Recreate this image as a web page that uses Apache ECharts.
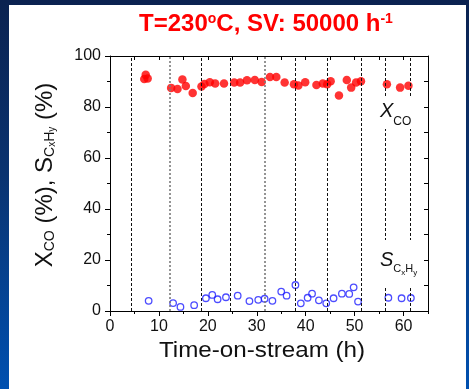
<!DOCTYPE html>
<html>
<head>
<meta charset="utf-8">
<script src="https://cdn.jsdelivr.net/npm/echarts@6/dist/echarts.min.js"></script>
<style>
  html, body { margin: 0; padding: 0; width: 469px; height: 389px; overflow: hidden; }
  body { background: linear-gradient(to bottom, #0b2250 0%, #0a3370 45%, #0050b0 100%); position: relative; }
  #panel { position: absolute; left: 9px; top: 5px; width: 457px; height: 384px; background: #ffffff; }
  #chart { position: absolute; left: 0; top: 0; width: 469px; height: 389px; }
</style>
</head>
<body>
<div id="panel"></div>
<div id="chart"></div>
<script>
// CO conversion (filled red) vs time on stream
const convTime = [7.3, 7.0, 7.7, 12.5, 13.8, 14.8, 15.5, 16.9, 18.7, 19.3, 20.4, 21.5, 23.3, 25.4, 26.6, 28.0, 29.6, 31.0, 32.7, 34.0, 35.7, 37.6, 38.5, 39.9, 42.2, 43.5, 44.4, 45.1, 46.8, 48.4, 49.3, 50.3, 51.3, 56.6, 59.3, 61.0];
const convValues = [92.6, 91.0, 91.2, 87.5, 87.1, 90.8, 88.2, 85.5, 88.0, 89.0, 89.7, 89.2, 89.2, 89.6, 89.6, 90.5, 90.6, 89.8, 91.8, 91.8, 89.6, 88.9, 88.4, 89.7, 88.6, 89.2, 88.9, 90.1, 84.5, 90.6, 87.6, 89.6, 90.1, 88.9, 87.6, 88.3];

// Hydrocarbon selectivity (open blue) vs time on stream
const selTime = [7.9, 12.9, 14.4, 17.2, 19.6, 20.9, 22.0, 23.7, 26.1, 28.5, 30.3, 31.6, 33.2, 35.0, 36.1, 37.9, 39.0, 40.4, 41.3, 42.7, 44.2, 45.7, 47.4, 48.9, 49.8, 50.7, 56.9, 59.6, 61.5];
const selValues = [4.0, 3.1, 1.6, 2.3, 5.0, 6.3, 4.6, 5.4, 6.0, 3.9, 4.4, 4.8, 4.0, 7.6, 6.0, 10.2, 3.0, 5.2, 6.8, 4.2, 3.0, 5.0, 6.8, 6.7, 9.3, 3.7, 5.2, 5.0, 5.1];

// Times of the run interruptions (dashed markers); greyed ones drawn lighter
const breakTimes = [4.4, 12.3, 18.7, 24.5, 31.6, 37.9, 44.4, 51.3, 56.3, 61.3];
const greyBreaks = [12.3, 31.6];

const xTicks = [0, 10, 20, 30, 40, 50, 60];
const yTicks = [0, 20, 40, 60, 80, 100];

const FONT = '"Liberation Sans", Arial, Helvetica, sans-serif';

const chart = echarts.init(document.getElementById('chart'), null, { renderer: 'canvas' });

const grid = { left: 110, top: 56, width: 318, height: 255 };
const axisColor = '#000';

function plainAxis(extra) {
  return Object.assign({
    type: 'value', min: 0, gridIndex: 0,
    splitLine: { show: false },
    axisLabel: { show: false },
    axisLine: { show: false },
    axisTick: { show: false }
  }, extra);
}

const option = {
  animation: false,
  textStyle: { fontFamily: FONT },
  grid: grid,
  xAxis: [
    plainAxis({
      position: 'bottom', max: 65, interval: 10,
      axisLine: { show: true, onZero: false, lineStyle: { color: axisColor, width: 1 } },
      axisTick: { show: true, inside: false, length: 5, lineStyle: { color: axisColor } },
      axisLabel: {
        show: true, margin: 8, color: '#111', fontSize: 16, fontFamily: FONT,
        showMaxLabel: false,
        formatter: v => (xTicks.indexOf(v) >= 0 ? String(v) : '')
      }
    }),
    plainAxis({
      position: 'bottom', max: 65, interval: 5,
      axisTick: { show: true, inside: false, length: 3, lineStyle: { color: axisColor } }
    }),
    plainAxis({
      position: 'top', max: 65, interval: 5,
      axisLine: { show: true, onZero: false, lineStyle: { color: axisColor, width: 1 } },
      axisTick: { show: true, inside: true, length: 4, lineStyle: { color: axisColor } }
    })
  ],
  yAxis: [
    plainAxis({
      position: 'left', max: 100, interval: 20,
      axisLine: { show: true, onZero: false, lineStyle: { color: axisColor, width: 1 } },
      axisTick: { show: true, inside: false, length: 5, lineStyle: { color: axisColor } },
      axisLabel: {
        show: true, margin: 9, color: '#111', fontSize: 16, fontFamily: FONT,
        formatter: v => (yTicks.indexOf(v) >= 0 ? String(v) : '')
      }
    }),
    plainAxis({
      position: 'left', max: 100, interval: 10,
      axisTick: { show: true, inside: false, length: 3, lineStyle: { color: axisColor } }
    }),
    plainAxis({
      position: 'right', max: 100, interval: 10,
      axisLine: { show: true, onZero: false, lineStyle: { color: axisColor, width: 1 } },
      axisTick: { show: true, inside: true, length: 4, lineStyle: { color: axisColor } }
    })
  ],
  series: [
    {
      // interruption markers
      type: 'line', xAxisIndex: 0, yAxisIndex: 0, data: [], z: 1,
      markLine: {
        silent: true, symbol: ['none', 'none'], label: { show: false },
        data: breakTimes.map(t => {
          const grey = greyBreaks.indexOf(t) >= 0;
          return {
            xAxis: t,
            lineStyle: grey
              ? { color: '#7a7a7a', width: 1.6, type: [2, 2] }
              : { color: '#111', width: 1, type: [3, 2] }
          };
        })
      }
    },
    {
      name: 'X_CO', type: 'scatter', xAxisIndex: 0, yAxisIndex: 0, z: 3,
      symbol: 'circle', symbolSize: 8.5,
      itemStyle: { color: '#ff0000' },
      data: convTime.map((t, i) => [t, convValues[i]])
    },
    {
      name: 'S_CxHy', type: 'scatter', xAxisIndex: 0, yAxisIndex: 0, z: 3,
      symbol: 'circle', symbolSize: 6.5,
      itemStyle: { color: 'rgba(255,255,255,0)', borderColor: '#1f1fff', borderWidth: 1.3 },
      data: selTime.map((t, i) => [t, selValues[i]])
    }
  ],
  graphic: [
    // title
    {
      type: 'text', x: 266, y: 24, z: 10,
      style: {
        text: '{m|T=230}{s|o}{m|C, SV: 50000 h}{s|-1}',
        align: 'center', verticalAlign: 'middle',
        rich: {
          m: { fontSize: 24, fontWeight: 'bold', fontFamily: FONT, fill: '#ff0000', verticalAlign: 'middle' },
          s: { fontSize: 14, fontWeight: 'bold', fontFamily: FONT, fill: '#ff0000', verticalAlign: 'top' }
        }
      }
    },
    // x axis name
    {
      type: 'text', x: 262, y: 351, z: 10, scaleX: 1.1,
      style: { text: 'Time-on-stream (h)', align: 'center', verticalAlign: 'middle',
               font: '22px ' + FONT, fill: '#111' }
    },
    // y axis name (rotated)
    {
      type: 'text', x: 45, y: 175, rotation: Math.PI / 2, z: 10,
      style: {
        text: '{m|X}{s|CO}{m| (%), S}{s|C}{t|x}{s|H}{t|y}{m| (%)}',
        align: 'center', verticalAlign: 'middle',
        rich: {
          m: { fontSize: 24, fontFamily: FONT, fill: '#111', verticalAlign: 'bottom' },
          s: { fontSize: 14, fontFamily: FONT, fill: '#111', verticalAlign: 'bottom' },
          t: { fontSize: 10, fontFamily: FONT, fill: '#111', verticalAlign: 'bottom' }
        }
      }
    },
    // series label: X_CO
    {
      type: 'rect', z: 20, shape: { x: 378, y: 97, width: 38, height: 32 },
      style: { fill: '#ffffff' }
    },
    {
      type: 'text', x: 380, y: 101, z: 21,
      style: {
        text: '{m|X}{s|CO}',
        align: 'left', verticalAlign: 'top',
        rich: {
          m: { fontSize: 20, fontStyle: 'italic', fontFamily: FONT, fill: '#111', verticalAlign: 'top', padding: [0, 0, 7, 0] },
          s: { fontSize: 12, fontFamily: FONT, fill: '#111', verticalAlign: 'bottom' }
        }
      }
    },
    // series label: S_CxHy
    {
      type: 'rect', z: 20, shape: { x: 378, y: 240, width: 42, height: 48 },
      style: { fill: '#ffffff' }
    },
    {
      type: 'text', x: 380, y: 250, z: 21,
      style: {
        text: '{m|S}{s|C}{t|x}{s|H}{t|y}',
        align: 'left', verticalAlign: 'top',
        rich: {
          m: { fontSize: 20, fontStyle: 'italic', fontFamily: FONT, fill: '#111', verticalAlign: 'top', padding: [0, 0, 8, 0] },
          s: { fontSize: 11, fontFamily: FONT, fill: '#111', verticalAlign: 'bottom', padding: [0, 0, 4, 0] },
          t: { fontSize: 8, fontFamily: FONT, fill: '#111', verticalAlign: 'bottom', padding: [0, 0, 1, 0] }
        }
      }
    }
  ]
};

chart.setOption(option);
</script>
</body>
</html>
